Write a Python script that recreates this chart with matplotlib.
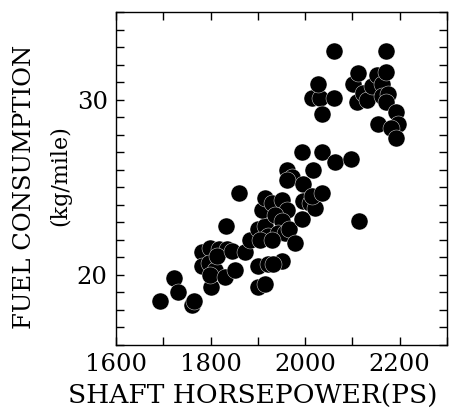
import numpy as np
import matplotlib.pyplot as plt
from matplotlib.ticker import MultipleLocator

# shaft horsepower (PS) and fuel consumption (kg/mile)
hp = [1694, 1722, 1732, 1760, 1765, 1801,
      1782, 1799, 1817, 1834, 1782, 1796, 1810, 1799, 1813, 1831, 1852, 1845,
      1833, 1861, 1873, 1884,
      1901, 1915, 1901, 1922, 1950, 1933,
      1901, 1915, 1908, 1915, 1929, 1950, 1961, 1937, 1950, 1922, 1943, 1957,
      1965, 1979, 1905, 1930,
      1961, 1972, 1961, 1993,
      1996, 1996, 1993, 2010, 2021, 2014, 2035, 2017,
      2035, 2063,
      2014, 2032, 2060, 2028, 2035, 2062,
      2098, 2114,
      2102, 2111, 2109, 2123, 2130, 2141, 2151, 2162, 2172, 2172, 2162, 2176,
      2172, 2155, 2193, 2197, 2182, 2193]
fuel = [18.5, 19.8, 19.0, 18.3, 18.5, 19.3,
        21.3, 21.55, 21.45, 21.45, 20.5, 20.7, 20.3, 20.0, 21.1, 19.9, 20.3, 21.35,
        22.8, 24.7, 21.3, 22.0,
        19.3, 19.5, 20.5, 20.6, 20.8, 20.6,
        22.6, 22.8, 23.7, 24.4, 24.1, 24.3, 23.7, 23.4, 23.1, 22.2, 22.4, 22.4,
        22.6, 21.8, 22.0, 22.0,
        26.0, 25.6, 25.4, 27.0,
        25.2, 24.2, 23.2, 24.1, 23.8, 24.5, 24.7, 26.0,
        27.0, 26.45,
        30.1, 30.1, 30.1, 30.9, 29.2, 32.8,
        26.6, 23.1,
        30.9, 31.5, 29.85, 30.4, 30.0, 30.8, 31.4, 30.9, 31.6, 32.8, 30.2, 30.3,
        29.85, 28.6, 29.3, 28.6, 28.4, 27.8]

plt.rcParams['font.family'] = 'DejaVu Serif'

fig = plt.figure(figsize=(4.51, 4.16), dpi=100)
ax = fig.add_axes([116/451, 71/416, 331/451, 333/416])

ax.scatter(hp, fuel, s=150, c='black', edgecolors='white', linewidths=0.3, zorder=3)

ax.set_xlim(1600, 2300)
ax.set_ylim(16, 35)
ax.set_xticks([1600, 1800, 2000, 2200])
ax.xaxis.set_minor_locator(MultipleLocator(100))
ax.set_yticks([20, 30])
ax.yaxis.set_minor_locator(MultipleLocator(1))
ax.tick_params(which='both', direction='in', top=True, right=True, width=1.0)
ax.tick_params(which='major', length=6, labelsize=17.5, pad=6)
ax.tick_params(which='minor', length=6)
for s in ax.spines.values():
    s.set_linewidth(1.0)

fig.text(253/451, 1 - 396/416, 'SHAFT HORSEPOWER(PS)', ha='center', va='center', fontsize=19)
fig.text(25/451, 1 - 187/416, 'FUEL CONSUMPTION', ha='center', va='center', rotation=90, fontsize=17.5)
fig.text(60/451, 1 - 176/416, '(kg/mile)', ha='center', va='center', rotation=90, fontsize=16)

fig.savefig('out.png', dpi=100)
